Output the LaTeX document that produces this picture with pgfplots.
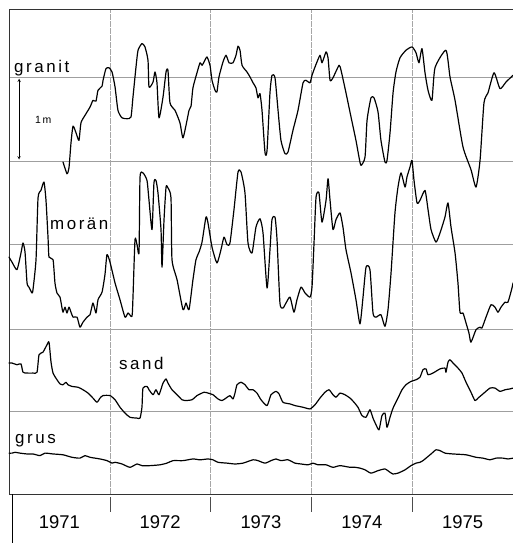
\documentclass[border=0pt]{standalone}
\usepackage{pgfplots}
\pgfplotsset{compat=1.18}
\usepackage{pgfplotstable}
\usepackage{fontspec}
\setmainfont{Liberation Sans}
\newfontfamily\lblfont[LetterSpace=15]{Liberation Sans}

\pgfplotsset{lvl/.style={black, line width=1.2pt, line join=round, line cap=round, mark=none, smooth, tension=0.35}}

% Groundwater levels (m, plotted on a common vertical scale)
\pgfplotstableread{
year level
1971.536 3.98
1971.575 3.84
1971.595 3.91
1971.615 4.21
1971.635 4.41
1971.665 4.33
1971.694 4.24
1971.714 4.45
1971.754 4.54
1971.804 4.64
1971.833 4.72
1971.863 4.71
1971.883 4.84
1971.923 4.89
1971.933 4.96
1971.962 5.10
1971.992 5.11
1972.022 5.06
1972.052 4.88
1972.081 4.60
1972.121 4.51
1972.171 4.50
1972.210 4.52
1972.230 4.76
1972.260 5.12
1972.280 5.32
1972.319 5.40
1972.349 5.36
1972.379 5.20
1972.389 4.88
1972.429 4.94
1972.448 5.06
1972.468 4.93
1972.488 4.51
1972.528 4.76
1972.558 5.06
1972.577 5.08
1972.597 4.69
1972.647 4.60
1972.696 4.45
1972.726 4.27
1972.766 4.48
1972.786 4.60
1972.806 4.65
1972.825 4.87
1972.865 5.05
1972.895 5.17
1972.915 5.14
1972.935 5.18
1972.964 5.24
1972.994 5.14
1973.014 4.96
1973.044 4.84
1973.063 4.82
1973.083 5.00
1973.123 5.18
1973.153 5.26
1973.183 5.17
1973.222 5.17
1973.252 5.26
1973.272 5.37
1973.292 5.32
1973.312 5.14
1973.361 5.06
1973.391 5.00
1973.421 4.93
1973.450 4.87
1973.470 4.75
1973.490 4.80
1973.510 4.60
1973.540 4.09
1973.560 4.12
1973.589 4.81
1973.609 5.02
1973.639 4.99
1973.669 4.60
1973.698 4.24
1973.738 4.08
1973.768 4.10
1973.817 4.36
1973.867 4.60
1973.917 4.93
1973.946 4.96
1973.986 4.93
1974.006 5.02
1974.036 5.12
1974.085 5.26
1974.105 5.17
1974.145 5.30
1974.165 5.23
1974.185 4.96
1974.214 4.99
1974.274 5.14
1974.294 5.08
1974.343 4.81
1974.393 4.52
1974.442 4.24
1974.472 4.04
1974.492 3.94
1974.532 4.04
1974.552 4.48
1974.591 4.75
1974.621 4.75
1974.661 4.58
1974.690 4.24
1974.730 3.98
1974.750 4.00
1974.780 4.33
1974.810 4.81
1974.839 5.06
1974.879 5.23
1974.938 5.32
1974.998 5.36
1975.038 5.29
1975.067 5.17
1975.097 5.34
1975.127 5.05
1975.157 4.84
1975.196 4.72
1975.226 5.11
1975.335 5.32
1975.375 5.00
1975.425 4.72
1975.504 4.16
1975.583 3.89
1975.633 3.68
1975.673 4.00
1975.712 4.69
1975.752 4.81
1975.812 5.05
1975.871 4.86
1975.931 4.94
1976.000 5.02
}\granit

\pgfplotstableread{
year level
1971.000 2.84
1971.030 2.78
1971.079 2.69
1971.119 2.89
1971.139 3.01
1971.159 2.90
1971.179 2.53
1971.198 2.48
1971.228 2.41
1971.238 2.45
1971.268 2.81
1971.288 3.55
1971.317 3.64
1971.347 3.74
1971.367 3.52
1971.387 3.08
1971.397 2.84
1971.437 2.81
1971.456 2.53
1971.476 2.41
1971.506 2.36
1971.526 2.23
1971.536 2.18
1971.556 2.24
1971.575 2.17
1971.595 2.24
1971.615 2.18
1971.635 2.12
1971.675 2.12
1971.704 2.00
1971.734 2.06
1971.774 2.12
1971.804 2.15
1971.833 2.29
1971.863 2.17
1971.883 2.33
1971.923 2.42
1971.952 2.63
1971.972 2.87
1972.002 2.78
1972.052 2.53
1972.101 2.33
1972.151 2.12
1972.181 2.17
1972.220 2.13
1972.230 2.36
1972.250 3.05
1972.270 2.99
1972.290 2.90
1972.300 3.80
1972.329 3.85
1972.369 3.76
1972.389 3.52
1972.419 3.17
1972.438 3.73
1972.458 3.76
1972.478 3.61
1972.508 3.17
1972.518 2.72
1972.538 3.29
1972.558 3.68
1972.577 3.67
1972.607 3.55
1972.617 2.81
1972.667 2.57
1972.726 2.21
1972.756 2.29
1972.786 2.21
1972.825 2.57
1972.855 2.81
1972.885 2.90
1972.915 3.02
1972.954 3.32
1972.974 3.25
1973.014 2.96
1973.063 2.77
1973.103 2.93
1973.133 3.08
1973.163 2.99
1973.192 3.01
1973.232 3.41
1973.272 3.86
1973.302 3.86
1973.341 3.61
1973.371 3.01
1973.411 2.89
1973.450 3.20
1973.490 3.30
1973.520 3.13
1973.560 2.47
1973.589 2.93
1973.609 3.29
1973.639 3.32
1973.659 3.05
1973.688 2.29
1973.718 2.23
1973.748 2.29
1973.788 2.36
1973.827 2.18
1973.857 2.33
1973.897 2.48
1973.937 2.41
1973.986 2.36
1974.006 2.48
1974.026 3.01
1974.046 3.56
1974.075 3.61
1974.105 3.26
1974.145 3.52
1974.165 3.78
1974.185 3.52
1974.214 3.17
1974.244 3.29
1974.284 3.37
1974.313 3.20
1974.343 2.93
1974.393 2.65
1974.442 2.33
1974.482 2.04
1974.512 2.36
1974.542 2.72
1974.581 2.69
1974.611 2.17
1974.641 2.12
1974.690 2.15
1974.730 2.01
1974.760 2.21
1974.790 2.65
1974.829 3.37
1974.859 3.68
1974.889 3.85
1974.929 3.68
1974.948 3.80
1974.978 3.92
1974.998 4.00
1975.018 3.76
1975.048 3.49
1975.077 3.52
1975.127 3.64
1975.157 3.41
1975.187 3.17
1975.236 3.02
1975.276 3.13
1975.325 3.32
1975.355 3.49
1975.385 3.20
1975.425 2.89
1975.454 2.53
1975.474 2.18
1975.504 2.17
1975.534 2.05
1975.563 1.93
1975.583 1.82
1975.633 1.97
1975.673 2.00
1975.692 1.99
1975.732 2.12
1975.782 2.27
1975.821 2.24
1975.851 2.18
1975.881 2.24
1975.921 2.30
1975.950 2.30
1975.990 2.47
1976.000 2.53
}\moraen

\pgfplotstableread{
year level
1971.000 1.57
1971.030 1.57
1971.079 1.55
1971.119 1.56
1971.139 1.46
1971.179 1.45
1971.238 1.45
1971.278 1.46
1971.298 1.67
1971.337 1.70
1971.377 1.79
1971.397 1.82
1971.417 1.58
1971.437 1.45
1971.476 1.37
1971.506 1.32
1971.536 1.31
1971.565 1.34
1971.585 1.31
1971.625 1.29
1971.685 1.28
1971.734 1.25
1971.784 1.21
1971.833 1.15
1971.873 1.10
1971.903 1.15
1971.933 1.18
1972.002 1.18
1972.052 1.13
1972.101 1.04
1972.151 0.97
1972.200 0.92
1972.270 0.91
1972.300 0.91
1972.319 1.04
1972.329 1.27
1972.369 1.29
1972.389 1.25
1972.429 1.19
1972.458 1.25
1972.488 1.19
1972.528 1.33
1972.558 1.38
1972.577 1.33
1972.617 1.25
1972.667 1.19
1972.716 1.13
1972.746 1.12
1972.815 1.13
1972.865 1.18
1972.935 1.22
1972.974 1.21
1973.024 1.19
1973.073 1.14
1973.113 1.12
1973.153 1.15
1973.192 1.18
1973.222 1.14
1973.242 1.21
1973.262 1.31
1973.302 1.34
1973.341 1.31
1973.381 1.25
1973.421 1.25
1973.460 1.21
1973.500 1.13
1973.560 1.06
1973.599 1.19
1973.649 1.23
1973.679 1.20
1973.718 1.10
1973.788 1.08
1973.837 1.06
1973.917 1.04
1973.986 1.02
1974.036 1.07
1974.085 1.15
1974.135 1.22
1974.175 1.25
1974.214 1.19
1974.244 1.16
1974.284 1.21
1974.333 1.19
1974.383 1.15
1974.423 1.10
1974.462 1.04
1974.502 0.94
1974.542 0.92
1974.581 1.01
1974.611 0.91
1974.641 0.83
1974.671 0.77
1974.700 0.94
1974.730 0.97
1974.750 0.80
1974.780 0.92
1974.810 1.03
1974.859 1.15
1974.899 1.25
1974.938 1.31
1974.988 1.35
1975.038 1.37
1975.077 1.40
1975.107 1.49
1975.137 1.50
1975.157 1.43
1975.206 1.45
1975.276 1.50
1975.325 1.51
1975.335 1.46
1975.355 1.58
1975.375 1.61
1975.405 1.57
1975.454 1.51
1975.494 1.45
1975.534 1.34
1975.583 1.22
1975.623 1.12
1975.653 1.15
1975.702 1.20
1975.772 1.27
1975.821 1.27
1975.871 1.23
1975.921 1.25
1975.970 1.26
1976.000 1.27
}\sand

\pgfplotstableread{
year level
1971.000 0.49
1971.030 0.49
1971.060 0.50
1971.109 0.49
1971.179 0.48
1971.238 0.48
1971.308 0.46
1971.357 0.49
1971.437 0.48
1971.536 0.47
1971.625 0.44
1971.704 0.43
1971.754 0.46
1971.804 0.44
1971.903 0.42
1971.972 0.40
1972.022 0.37
1972.052 0.38
1972.121 0.36
1972.200 0.32
1972.270 0.36
1972.319 0.34
1972.399 0.34
1972.498 0.35
1972.567 0.37
1972.627 0.40
1972.726 0.40
1972.825 0.42
1972.895 0.41
1972.974 0.42
1973.024 0.41
1973.073 0.38
1973.163 0.37
1973.242 0.36
1973.321 0.37
1973.421 0.41
1973.470 0.40
1973.540 0.37
1973.599 0.40
1973.649 0.42
1973.698 0.40
1973.768 0.41
1973.837 0.37
1973.897 0.36
1973.966 0.35
1974.016 0.37
1974.065 0.35
1974.145 0.35
1974.214 0.32
1974.284 0.34
1974.383 0.32
1974.433 0.32
1974.482 0.31
1974.532 0.29
1974.591 0.25
1974.661 0.28
1974.730 0.30
1974.780 0.26
1974.810 0.24
1974.859 0.25
1974.929 0.29
1974.988 0.34
1975.038 0.37
1975.077 0.38
1975.107 0.40
1975.137 0.43
1975.187 0.48
1975.236 0.53
1975.276 0.52
1975.325 0.49
1975.405 0.48
1975.534 0.47
1975.633 0.44
1975.702 0.43
1975.772 0.41
1975.831 0.43
1975.901 0.43
1975.950 0.42
1976.000 0.43
}\grus

\begin{document}
\begin{tikzpicture}
\useasboundingbox (0,0) rectangle (513bp,543bp);
\begin{axis}[
  at={(9bp,49bp)}, anchor=south west,
  scale only axis, width=504bp, height=485bp,
  xmin=1971, xmax=1976, ymin=0, ymax=5.815,
  axis line style={draw=none},
  xtick=\empty, ytick=\empty,
  clip=false,
]
  % grid
  \foreach \yy in {0.995,1.978,2.998,3.993,5.0}{
    \edef\tmp{\noexpand\draw[gray!75, line width=0.6pt] (axis cs:1971,\yy) -- (axis cs:1976,\yy);}\tmp
  }
  \foreach \xx in {1972,1973,1974,1975}{
    \edef\tmp{\noexpand\draw[gray!70, line width=0.5pt, dash pattern=on 6pt off 1pt] (axis cs:\xx,0) -- (axis cs:\xx,5.815);}\tmp
    \edef\tmp{\noexpand\draw[gray!60!black, line width=0.6pt] (axis cs:\xx,-0.036) -- (axis cs:\xx,-0.216);}\tmp
  }
  % frame
  \draw[gray!40!black, line width=0.8pt] (axis cs:1971,5.815) -- (axis cs:1976,5.815);
  \draw[gray!40!black, line width=0.8pt] (axis cs:1971,0) -- (axis cs:1976,0);
  \draw[gray!40!black, line width=0.8pt] (axis cs:1971,0) -- (axis cs:1971,5.815);
  \draw[black, line width=0.9pt] (axis cs:1971.03,0) -- (axis cs:1971.03,-0.588);

  \addplot[lvl] table[x=year, y=level] {\granit};
  \addplot[lvl] table[x=year, y=level] {\moraen};
  \addplot[lvl] table[x=year, y=level] {\sand};
  \addplot[lvl] table[x=year, y=level] {\grus};

  % scale bar
  \draw[black, line width=0.5pt, <->, >=stealth] (axis cs:1971.10,4.98) -- (axis cs:1971.10,4.01);
  \node[anchor=base west, inner sep=0pt] at (axis cs:1971.258,4.44) {\lblfont\fontsize{10.5}{12}\selectfont 1m};

  % series names
  \node[anchor=base west, inner sep=0pt] at (axis cs:1971.05,5.05) {\lblfont\fontsize{17}{20}\selectfont granit};
  \node[anchor=base west, inner sep=0pt] at (axis cs:1971.407,3.17) {\lblfont\fontsize{17}{20}\selectfont morän};
  \node[anchor=base west, inner sep=0pt] at (axis cs:1972.091,1.49) {\lblfont\fontsize{17}{20}\selectfont sand};
  \node[anchor=base west, inner sep=0pt] at (axis cs:1971.06,0.61) {\lblfont\fontsize{17}{20}\selectfont grus};

  % years
  \foreach \yr in {1971,...,1975}{
    \edef\tmp{\noexpand\node[anchor=center, inner sep=0pt, font=\noexpand\fontsize{18.5}{22}\noexpand\selectfont] at (axis cs:\yr.5,-0.336) {\yr};}\tmp
  }
\end{axis}
\end{tikzpicture}
\end{document}
